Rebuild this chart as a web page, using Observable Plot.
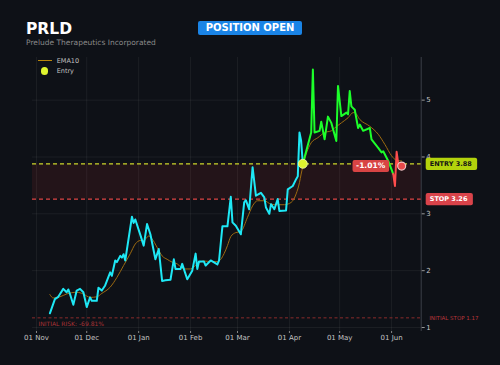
<!DOCTYPE html>
<html><head><meta charset="utf-8">
<script src="https://cdn.jsdelivr.net/npm/d3@7"></script>
<script src="https://cdn.jsdelivr.net/npm/@observablehq/plot@0.6"></script>
<style>
html,body{margin:0;padding:0;background:#0e1117;}
#wrap{position:relative;width:500px;height:365px;overflow:hidden;font-family:"DejaVu Sans",sans-serif;background:#0e1117;}
#chart{position:absolute;left:0;top:0;}
#title{position:absolute;left:26px;top:23.4px;font-size:15.5px;line-height:12px;font-weight:bold;color:#fff;}
#sub{position:absolute;left:26px;top:39.2px;font-size:7.5px;line-height:7.5px;color:#8a8a8a;}
#badge{position:absolute;left:198px;top:21px;width:104px;height:14px;line-height:14px;text-align:center;background:#1a84e6;color:#fff;font-weight:bold;font-size:10px;border-radius:2px;}
#legend{position:absolute;left:37.7px;top:55.25px;font-size:6.5px;color:#c0c0c0;}
#legend .row{display:flex;align-items:center;height:10.5px;}
#legend .sw-line{display:inline-block;width:14px;height:1px;background:#b8860b;margin-right:5px;}
#legend .sw-dot{display:inline-block;width:7.4px;height:7.4px;border-radius:50%;background:#dff52f;margin-left:3px;margin-right:8.6px;}
</style></head><body>
<div id="wrap">
  <div id="chart"></div>
  <div id="title">PRLD</div>
  <div id="sub">Prelude Therapeutics Incorporated</div>
  <div id="badge">POSITION OPEN</div>
  <div id="legend">
    <div class="row"><span class="sw-line"></span>EMA10</div>
    <div class="row"><span class="sw-dot"></span>Entry</div>
  </div>
</div>
<script>
const priceDates = ["2024-11-09","2024-11-12","2024-11-14","2024-11-17","2024-11-19","2024-11-20","2024-11-21","2024-11-23","2024-11-25","2024-11-27","2024-11-29",
"2024-12-01","2024-12-03","2024-12-04","2024-12-07","2024-12-08","2024-12-10","2024-12-12","2024-12-15","2024-12-16","2024-12-18","2024-12-19","2024-12-21","2024-12-22","2024-12-23","2024-12-24","2024-12-28","2024-12-29","2024-12-30",
"2025-01-02","2025-01-04","2025-01-06","2025-01-08","2025-01-11","2025-01-13","2025-01-15","2025-01-17","2025-01-20","2025-01-22","2025-01-23","2025-01-26","2025-01-27","2025-01-30",
"2025-02-02","2025-02-04","2025-02-05","2025-02-06","2025-02-09","2025-02-10","2025-02-13","2025-02-17","2025-02-18","2025-02-20","2025-02-23","2025-02-25","2025-02-26","2025-02-28",
"2025-03-03","2025-03-05","2025-03-06","2025-03-08","2025-03-10","2025-03-12","2025-03-15","2025-03-17","2025-03-18","2025-03-20","2025-03-21","2025-03-23","2025-03-25","2025-03-26","2025-03-30","2025-03-31",
"2025-04-03","2025-04-05","2025-04-06","2025-04-07","2025-04-08","2025-04-09","2025-04-14","2025-04-15","2025-04-16","2025-04-19","2025-04-20","2025-04-22","2025-04-24","2025-04-26","2025-04-29","2025-04-30",
"2025-05-02","2025-05-05","2025-05-06","2025-05-07","2025-05-08","2025-05-09","2025-05-10","2025-05-12","2025-05-13","2025-05-15","2025-05-19","2025-05-20","2025-05-24","2025-05-26","2025-05-27","2025-05-30",
"2025-06-02","2025-06-03","2025-06-04","2025-06-05","2025-06-07"];
const prices = [1.25,1.50,1.54,1.68,1.62,1.67,1.59,1.40,1.65,1.68,1.62,
1.36,1.53,1.47,1.47,1.70,1.65,1.74,1.97,1.91,2.18,2.15,2.26,2.23,2.29,2.18,2.95,2.84,2.90,
2.63,2.44,2.82,2.64,2.20,2.38,1.82,1.83,1.84,2.20,2.03,2.03,2.12,1.85,
2.00,2.30,2.03,2.16,2.16,2.09,2.18,2.11,2.18,2.78,2.78,3.30,2.85,2.79,
2.64,3.20,3.24,3.08,3.82,3.32,3.37,3.29,3.11,3.00,3.17,3.08,3.26,3.05,3.06,3.43,
3.49,3.61,3.66,4.43,4.28,3.88,4.43,5.54,4.43,4.46,4.62,4.31,4.71,4.60,4.28,5.25,
4.72,4.78,4.75,5.16,4.89,4.86,4.83,4.51,4.57,4.46,4.51,4.31,4.16,4.08,4.10,3.93,
3.70,3.49,4.09,3.87,3.84];

const emaDates = ["2024-11-09","2024-11-11","2024-11-15","2024-11-19","2024-11-25","2024-11-29","2024-12-03","2024-12-07","2024-12-10","2024-12-15","2024-12-19","2024-12-23","2024-12-27","2024-12-30",
"2025-01-02","2025-01-04","2025-01-07","2025-01-09","2025-01-12","2025-01-15","2025-01-18","2025-01-21","2025-01-24","2025-01-28",
"2025-02-01","2025-02-05","2025-02-09","2025-02-13","2025-02-17","2025-02-19","2025-02-21","2025-02-23","2025-02-25","2025-02-28",
"2025-03-03","2025-03-07","2025-03-10","2025-03-13","2025-03-17","2025-03-21","2025-03-25","2025-03-29",
"2025-04-02","2025-04-05","2025-04-07","2025-04-08","2025-04-10","2025-04-14","2025-04-18","2025-04-22","2025-04-26","2025-04-28",
"2025-05-02","2025-05-06","2025-05-09","2025-05-10","2025-05-13","2025-05-19","2025-05-24","2025-05-28","2025-06-01","2025-06-04","2025-06-07"];
const ema10 = [1.58,1.52,1.54,1.59,1.62,1.59,1.53,1.54,1.60,1.71,1.88,2.09,2.30,2.47,
2.53,2.53,2.61,2.56,2.41,2.26,2.20,2.15,2.12,2.03,
2.03,2.12,2.17,2.16,2.16,2.20,2.30,2.44,2.60,2.67,
2.69,2.94,3.14,3.23,3.23,3.17,3.16,3.16,
3.20,3.35,3.55,3.70,3.95,4.25,4.34,4.43,4.46,4.51,
4.60,4.69,4.78,4.78,4.66,4.54,4.40,4.22,4.02,3.94,3.93];

const entryPrice = 3.88;
const stopPrice = 3.26;
const initialStop = 1.17;
const entryDate = "2025-04-09";
const redFromDate = "2025-06-02";
const pnlText = "-1.01%";
const entryText = "ENTRY 3.88";
const stopText = "STOP 3.26";
const initialStopText = "INITIAL STOP 1.17";
const initialRiskText = "INITIAL RISK: -69.81%";
const monthTicks = ["2024-11-01","2024-12-01","2025-01-01","2025-02-01","2025-03-01","2025-04-01","2025-05-01","2025-06-01"];
const yTicks = [1,2,3,4,5];
const xDomain = ["2024-10-29T15:00Z","2025-06-18T16:00Z"];
const yDomain = [0.93,5.75];

const rows = priceDates.map((d,i)=>({date:new Date(d), close:prices[i]}));
const emaRows = emaDates.map((d,i)=>({date:new Date(d), ema:ema10[i]}));
const eD = new Date(entryDate), rD = new Date(redFromDate);
const pre = rows.filter(r=>r.date<=eD);
const mid = rows.filter(r=>r.date>=eD && r.date<=rD);
const post = rows.filter(r=>r.date>=rD);
const last = rows[rows.length-1];
const entryRow = rows.find(r=>+r.date===+eD);
const xd = xDomain.map(d=>new Date(d));
const ticks = monthTicks.map(d=>new Date(d));

const chart = Plot.plot({
  width:500, height:365,
  marginTop:57, marginBottom:34, marginLeft:32, marginRight:79.3,
  style:{background:"transparent", color:"#c4c4c4", fontFamily:"DejaVu Sans", fontSize:"7px"},
  x:{type:"utc", domain:xd},
  y:{domain:yDomain},
  marks:[
    Plot.gridX(ticks, {stroke:"#ffffff", strokeOpacity:0.06}),
    Plot.gridY(yTicks, {stroke:"#ffffff", strokeOpacity:0.06}),
    Plot.rect([{a:xd[0], b:xd[1], lo:stopPrice, hi:entryPrice}], {x1:"a", x2:"b", y1:"lo", y2:"hi", fill:"#ff3b3b", fillOpacity:0.09}),
    Plot.ruleX([xd[1]], {stroke:"#3a3f48"}),
    Plot.ruleY([initialStop], {stroke:"#8a2c2c", strokeWidth:1, strokeDasharray:"3,2.5"}),
    Plot.ruleY([stopPrice], {stroke:"#e04444", strokeWidth:1.2, strokeDasharray:"4,3"}),
    Plot.ruleY([entryPrice], {stroke:"#c9d62a", strokeWidth:1.2, strokeDasharray:"4,3"}),
    Plot.axisX(ticks, {tickFormat:d3.utcFormat("%d %b"), tickSize:2, tickPadding:2, stroke:"#888", fill:"#c4c4c4", fontSize:7}),
    Plot.axisY(yTicks, {anchor:"right", tickFormat:d3.format("d"), tickSize:3, tickPadding:2, stroke:"#999", fill:"#c4c4c4", fontSize:7}),
    Plot.line(emaRows, {x:"date", y:"ema", stroke:"#9c6a10", strokeWidth:1, curve:"monotone-x"}),
    Plot.line(pre, {x:"date", y:"close", stroke:"#1ee8f5", strokeWidth:2, strokeLinejoin:"round"}),
    Plot.line(mid, {x:"date", y:"close", stroke:"#1cff2a", strokeWidth:2, strokeLinejoin:"round"}),
    Plot.line(post, {x:"date", y:"close", stroke:"#ff4d4d", strokeWidth:2, strokeLinejoin:"round"}),
    Plot.dot([entryRow], {x:"date", y:"close", r:4.5, fill:"#dff52f", stroke:"#f3ffb5", strokeWidth:0.8}),
    Plot.dot([last], {x:"date", y:"close", r:4, fill:"#e84a4a", stroke:"#f2c4c4", strokeWidth:1.2}),
    Plot.text([last], {x:"date", y:"close", text:()=>pnlText, dx:-16.5, textAnchor:"end", fill:"#ffffff", fontWeight:"bold", fontSize:7.5, className:"lbl-pnl"}),
    Plot.text([{y:entryPrice}], {y:"y", text:()=>entryText, frameAnchor:"right", dx:8.5, textAnchor:"start", fill:"#151515", fontWeight:"bold", fontSize:6.5, className:"lbl-entry"}),
    Plot.text([{y:stopPrice}], {y:"y", text:()=>stopText, frameAnchor:"right", dx:8.5, textAnchor:"start", fill:"#ffffff", fontWeight:"bold", fontSize:6.5, className:"lbl-stop"}),
    Plot.text([{y:initialStop}], {y:"y", text:()=>initialStopText, frameAnchor:"right", dx:8, textAnchor:"start", fill:"#b8363a", fontSize:5.5}),
    Plot.text([{y:initialStop}], {y:"y", text:()=>initialRiskText, frameAnchor:"left", dx:6, dy:6, textAnchor:"start", fill:"#a83236", fontSize:6})
  ]
});
document.getElementById("chart").append(chart);

function addBg(cls, fill, padL, padR, padY){
  chart.querySelectorAll("." + cls + " text").forEach(t=>{
    const b = t.getBBox();
    const r = document.createElementNS("http://www.w3.org/2000/svg","rect");
    r.setAttribute("x", b.x - padL);
    r.setAttribute("y", b.y - padY);
    r.setAttribute("width", b.width + padL + padR);
    r.setAttribute("height", b.height + 2*padY);
    r.setAttribute("rx", 2);
    r.setAttribute("fill", fill);
    if (t.getAttribute("transform")) r.setAttribute("transform", t.getAttribute("transform"));
    t.parentNode.insertBefore(r, t);
  });
}
addBg("lbl-entry", "#b3d30c", 4, 5, 2.2);
addBg("lbl-stop", "#d9434a", 4, 5, 2.2);
addBg("lbl-pnl", "#d84444", 3.5, 3.5, 1.5);
</script>
</body></html>
